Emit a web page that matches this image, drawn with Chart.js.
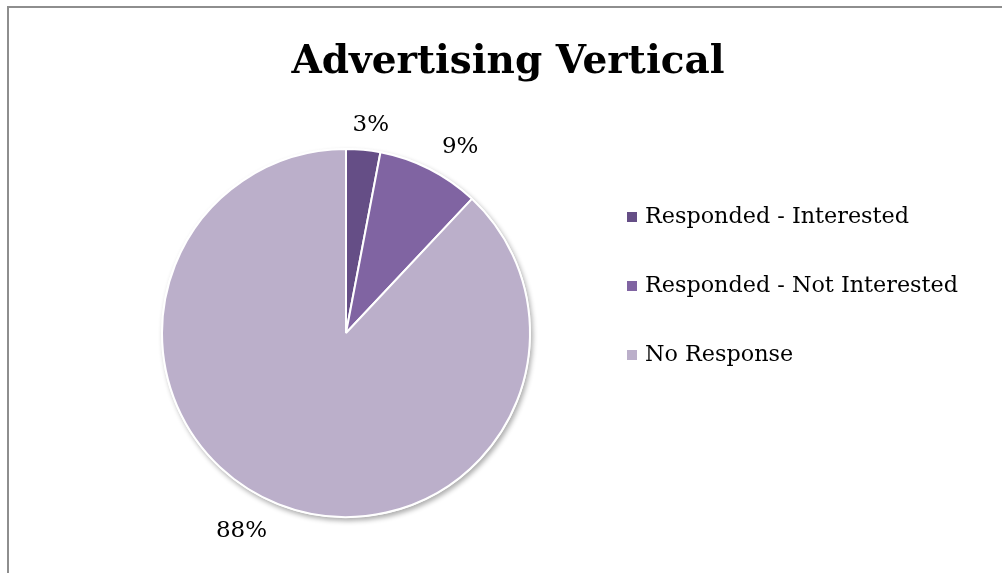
<!DOCTYPE html>
<html>
<head>
<meta charset="utf-8">
<script src="https://cdn.jsdelivr.net/npm/chart.js@4/dist/chart.umd.min.js"></script>
<style>
  html, body { margin: 0; padding: 0; background: #fff; overflow: hidden; }
  #wrap { position: relative; width: 1002px; height: 573px; }
  #frame { position: absolute; left: 7px; top: 6px; width: 1100px; height: 700px;
           border-top: 2px solid #8e8e8e; border-left: 2px solid #8e8e8e; box-sizing: border-box; }
  canvas { position: absolute; left: 0; top: 0; }
</style>
</head>
<body>
<div id="wrap">
  <div id="frame"></div>
  <canvas id="c" width="1002" height="573"></canvas>
</div>
<script>
const chartTitle = 'Advertising Vertical';
const categories = ['Responded - Interested', 'Responded - Not Interested', 'No Response'];
const shares = [3, 9, 88];
const sliceColors = ['#654e86', '#8064a2', '#bbafca'];

const SERIF = '"DejaVu Serif", "Liberation Serif", serif';

// soft drop shadow under the whole pie
const pieShadow = {
  id: 'pieShadow',
  beforeDatasetsDraw(chart) {
    const arc = chart.getDatasetMeta(0).data[0];
    if (!arc) return;
    const { ctx } = chart;
    ctx.save();
    ctx.shadowColor = 'rgba(0,0,0,0.32)';
    ctx.shadowBlur = 5;
    ctx.shadowOffsetX = 2;
    ctx.shadowOffsetY = 3;
    ctx.fillStyle = '#ffffff';
    ctx.beginPath();
    ctx.arc(arc.x, arc.y, arc.outerRadius + 1, 0, Math.PI * 2);
    ctx.fill();
    ctx.restore();
  }
};

// title, outside percentage labels and legend
const decorations = {
  id: 'decorations',
  afterDraw(chart, args, opts) {
    const { ctx } = chart;
    const meta = chart.getDatasetMeta(0);
    const ds = chart.data.datasets[0];
    const total = ds.data.reduce((a, b) => a + b, 0);
    ctx.save();

    // title
    ctx.fillStyle = '#000';
    ctx.font = 'bold ' + opts.titleSize + 'px ' + SERIF;
    ctx.textAlign = 'center';
    ctx.textBaseline = 'alphabetic';
    ctx.fillText(chartTitle, opts.titleX, opts.titleY);

    // percentage labels
    ctx.font = opts.labelSize + 'px ' + SERIF;
    ctx.textBaseline = 'middle';
    meta.data.forEach((arc, i) => {
      const mid = (arc.startAngle + arc.endAngle) / 2 + opts.labelShift[i] * Math.PI / 180;
      const r = arc.outerRadius + opts.labelGap[i];
      const x = arc.x + Math.cos(mid) * r;
      const y = arc.y + Math.sin(mid) * r;
      const pct = Math.round(ds.data[i] / total * 100) + '%';
      ctx.fillText(pct, x, y);
    });

    // legend
    ctx.textAlign = 'left';
    ctx.font = opts.legendSize + 'px ' + SERIF;
    chart.data.labels.forEach((lab, i) => {
      const cy = opts.legendY + i * opts.legendStep;
      ctx.fillStyle = ds.backgroundColor[i];
      ctx.fillRect(opts.legendX, cy - 5, 10, 10);
      ctx.fillStyle = '#000';
      ctx.fillText(lab, opts.legendX + 18, cy);
    });
    ctx.restore();
  }
};

new Chart(document.getElementById('c'), {
  type: 'pie',
  data: {
    labels: categories,
    datasets: [{
      data: shares,
      backgroundColor: sliceColors,
      borderColor: '#ffffff',
      borderWidth: 2
    }]
  },
  options: {
    responsive: false,
    animation: false,
    layout: { padding: { left: 161, right: 471, top: 148, bottom: 55 } },
    plugins: {
      legend: { display: false },
      tooltip: { enabled: false },
      title: { display: false },
      decorations: {
        titleSize: 39, titleX: 508, titleY: 73,
        labelSize: 23,
        labelShift: [1.4, 4.6, 6.2],
        labelGap: [25, 34, 40],
        legendSize: 22.3, legendX: 627, legendY: 217, legendStep: 69
      }
    }
  },
  plugins: [pieShadow, decorations]
});
</script>
</body>
</html>
